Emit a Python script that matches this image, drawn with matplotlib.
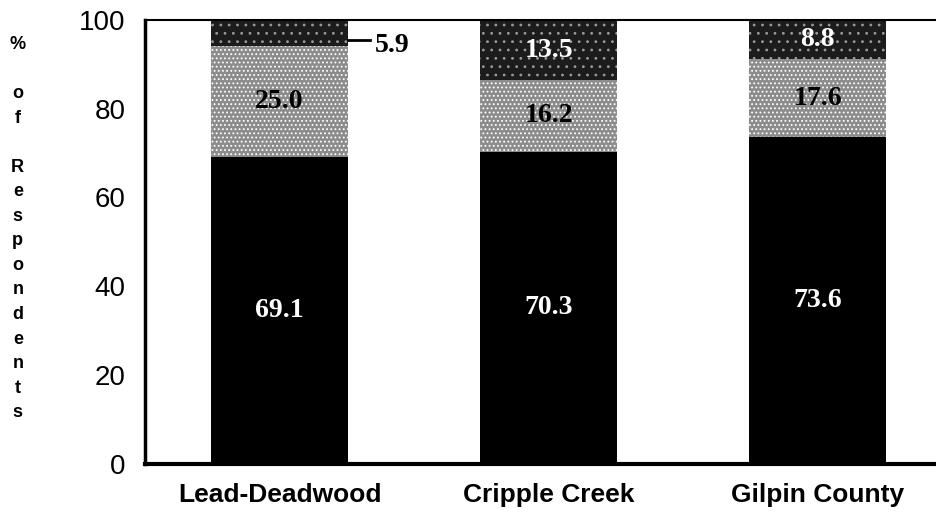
import numpy as np
import matplotlib.pyplot as plt

sites = ['Lead-Deadwood', 'Cripple Creek', 'Gilpin County']
bottom_vals = [69.1, 70.3, 73.6]
middle_vals = [25.0, 16.2, 17.6]
top_vals = [5.9, 13.5, 8.8]
yticks = [0, 20, 40, 60, 80, 100]

plt.rcParams['hatch.linewidth'] = 0.8

fig = plt.figure(figsize=(9.36, 5.15), dpi=100)
ax = fig.add_axes([0.155, 0.10, 0.845, 0.861])

x = np.arange(len(sites))
w = 0.51
bot = np.array(bottom_vals)
mid = np.array(middle_vals)
top = np.array(top_vals)

ax.bar(x, bot, w, color='black', edgecolor='black', linewidth=0)
plt.rcParams['hatch.color'] = 'white'
ax.bar(x, mid, w, bottom=bot, color='#8c8c8c', edgecolor='white', hatch='....', linewidth=0)
ax.bar(x, top, w, bottom=bot + mid, color='#1c1c1c', edgecolor='#9a9a9a', hatch='..', linewidth=0)

serif = dict(family='Liberation Serif', fontweight='bold', fontsize=20)
for i in range(len(sites)):
    ax.text(x[i], bot[i] / 2, f'{bot[i]:.1f}', ha='center', va='center', color='white', **serif)
    ax.text(x[i], bot[i] + mid[i] / 2, f'{mid[i]:.1f}', ha='center', va='center', color='black', **serif)
    if top[i] >= 8:
        ax.text(x[i], bot[i] + mid[i] + top[i] / 2, f'{top[i]:.1f}', ha='center', va='center',
                color='white', **serif)
    else:
        yy = bot[i] + mid[i] + top[i] / 2 - 1.5
        ax.plot([x[i] + w / 2, x[i] + w / 2 + 0.08], [yy, yy], color='black', lw=2, clip_on=False)
        ax.text(x[i] + w / 2 + 0.1, yy - 1.2, f'{top[i]:.1f}', ha='left', va='center',
                color='black', **serif)

ax.set_xlim(-0.5, 2.44)
ax.set_ylim(0, 100)
ax.set_yticks(yticks)
ax.set_yticklabels([str(t) for t in yticks], family='Liberation Sans', fontsize=20)
ax.set_xticks(x)
ax.set_xticklabels(sites, family='Liberation Sans', fontweight='bold', fontsize=19)
ax.tick_params(axis='x', length=0, pad=14)
ax.tick_params(axis='y', length=0, pad=14)

ax.spines['right'].set_visible(False)
ax.spines['left'].set_linewidth(2.5)
ax.spines['bottom'].set_linewidth(3)
ax.spines['top'].set_linewidth(1.5)

fig.text(0.019, 0.93, '%\n\no\nf\n\nR\ne\ns\np\no\nn\nd\ne\nn\nt\ns', ha='center', va='top',
         family='Liberation Sans', fontweight='bold', fontsize=13, linespacing=1.58)

fig.savefig('out.png', dpi=100)
